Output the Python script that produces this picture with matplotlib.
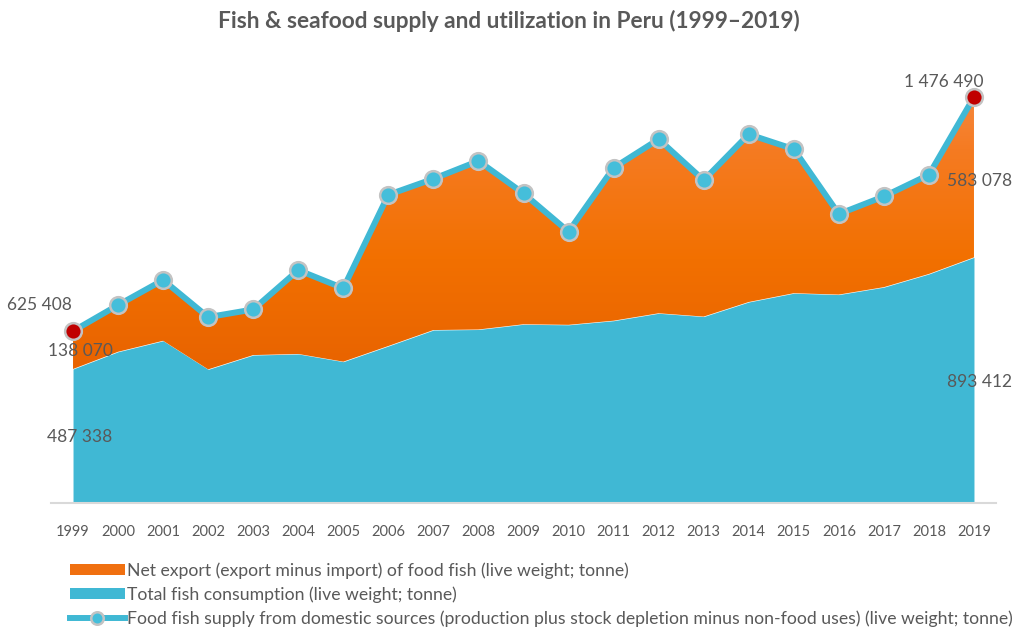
import matplotlib
matplotlib.use("Agg")
import matplotlib.pyplot as plt
import numpy as np
from matplotlib.colors import LinearSegmentedColormap
from matplotlib.patches import Patch
from matplotlib.lines import Line2D

years = [str(y) for y in range(1999, 2020)]
consumption = [487338, 550000, 590000, 486000, 538000, 542000, 514000, 571000, 629000, 631000,
               650000, 648000, 663000, 690000, 678000, 731000, 763000, 758000, 785000, 833000, 893412]
supply = [625408, 720000, 811000, 676000, 704000, 847000, 781000, 1121000, 1179000, 1244000,
          1126000, 987000, 1219000, 1323000, 1174000, 1341000, 1287000, 1051000, 1115000, 1194000, 1476490]
net_export = [s - c for s, c in zip(supply, consumption)]

title = "Fish & seafood supply and utilization in Peru (1999\u20132019)"
lbl_export = "Net export (export minus import) of food fish (live weight; tonne)"
lbl_cons = "Total fish consumption (live weight; tonne)"
lbl_supply = "Food fish supply from domestic sources (production plus stock depletion minus non-food uses) (live weight; tonne)"

FONT = "Lato"
TXT = "#595959"
BLUE = "#40B8D4"

def fmt(v):
    return f"{v:,}".replace(",", " ")

fig = plt.figure(figsize=(10.17, 6.28), dpi=100)
ax = fig.add_axes([50.5 / 1017, 1 - 503 / 628, (996.5 - 50.5) / 1017, (503 - 60) / 628])

x = np.arange(len(years))
cons = np.array(consumption, dtype=float)
tot = cons + np.array(net_export, dtype=float)
ymax = (503 - 60) * 3637

ax.fill_between(x, 0, cons, color=BLUE, lw=0, zorder=2)
poly = ax.fill_between(x, cons, tot, facecolor="none", lw=0, zorder=2)
cmap = LinearSegmentedColormap.from_list(
    "og", [(0.0, "#E05A00"), (0.30, "#E86300"), (0.55, "#F27000"), (0.80, "#F57B22"), (1.0, "#F6904F")])
grad = np.linspace(0, 1, 256).reshape(-1, 1)
im = ax.imshow(grad, extent=[-0.5, 20.5, 0, ymax], origin="lower", aspect="auto", cmap=cmap, zorder=2)
im.set_clip_path(poly.get_paths()[0], transform=ax.transData)

ax.plot(x, supply, color=BLUE, lw=4.3, zorder=3, solid_joinstyle="round")
ax.plot(x[1:-1], supply[1:-1], ls="none", marker="o", ms=12, mfc="#45BEDA", mec="#C3C3C3", mew=1.8, zorder=4)
ax.plot([x[0], x[-1]], [supply[0], supply[-1]], ls="none", marker="o", ms=12, mfc="#C00000", mec="#C3C3C3", mew=1.8, zorder=4)

ax.set_xlim(-0.5, 20.5)
ax.set_ylim(0, ymax)
ax.set_xticks(x)
ax.set_xticklabels(years, fontsize=10.5, color=TXT, family=FONT)
ax.tick_params(axis="x", length=0, pad=16)
ax.set_yticks([])
for s in ["left", "right", "top"]:
    ax.spines[s].set_visible(False)
ax.spines["bottom"].set_color("#D9D9D9")
ax.spines["bottom"].set_linewidth(1.5)

lab = dict(fontsize=12.5, color=TXT, family=FONT, ha="center", va="center", textcoords="offset points", zorder=5)
ax.annotate(fmt(supply[0]), (0, supply[0]), xytext=(-24, 19), **lab)
ax.annotate(fmt(net_export[0]), (0, (cons[0] + tot[0]) / 2), xytext=(5, -1), **lab)
ax.annotate(fmt(consumption[0]), (0, cons[0] / 2), xytext=(5, -1), **lab)
ax.annotate(fmt(supply[-1]), (20, supply[-1]), xytext=(-22, 11), **lab)
ax.annotate(fmt(net_export[-1]), (20, (cons[-1] + tot[-1]) / 2), xytext=(4, -3), **lab)
ax.annotate(fmt(consumption[-1]), (20, cons[-1] / 2), xytext=(4, -1), **lab)

fig.text(0.5, 1 - 21 / 628, title, ha="center", va="center", fontsize=16.3, fontweight="bold", color=TXT, family=FONT)

handles = [Patch(facecolor="#F07010", edgecolor="none"),
           Patch(facecolor=BLUE, edgecolor="none"),
           Line2D([], [], color=BLUE, lw=4.3, marker="o", ms=9, mfc="#45BEDA", mec="#C3C3C3", mew=1.8)]
leg = fig.legend(handles, [lbl_export, lbl_cons, lbl_supply], loc="upper left",
                 bbox_to_anchor=(70 / 1017, 1 - 562 / 628), frameon=False,
                 prop={"family": FONT, "size": 12.7}, labelcolor=TXT,
                 handlelength=3.1, handleheight=0.6, handletextpad=0.15, labelspacing=0.42, borderpad=0, borderaxespad=0)

fig.savefig("out.png", dpi=100)
